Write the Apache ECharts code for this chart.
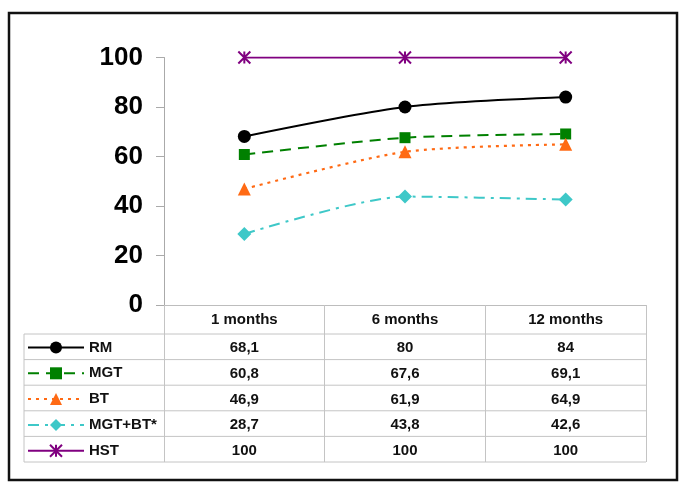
<!DOCTYPE html>
<html><head><meta charset="utf-8">
<script src="https://cdn.jsdelivr.net/npm/echarts@6/dist/echarts.min.js"></script>
<style>html,body{margin:0;padding:0;background:#fff}#c{width:685px;height:492px}</style>
</head><body><div id="c"></div>
<script>
const categories = ['1 months', '6 months', '12 months'];
const seriesNames = ['RM', 'MGT', 'BT', 'MGT+BT*', 'HST'];
const RM = [68.1, 80, 84];
const MGT = [60.8, 67.6, 69.1];
const BT = [46.9, 61.9, 64.9];
const MGT_BT = [28.7, 43.8, 42.6];
const HST = [100, 100, 100];
const yTicks = [0, 20, 40, 60, 80, 100];

const seriesData = [RM, MGT, BT, MGT_BT, HST];
const styles = [
  {color: '#000000', type: 'solid', symbol: 'circle', size: 13, width: 2},
  {color: '#008000', type: [11, 7], symbol: 'rect', size: 11, width: 2},
  {color: '#ff6a14', type: [3, 5], symbol: 'triangle', size: 13, width: 2.2},
  {color: '#3ec8c8', type: [11, 6, 3, 6], symbol: 'diamond', size: 14, width: 2},
  {color: '#800080', type: 'solid', symbol: 'path://M0,0L10,10M10,0L0,10M5,0L5,10', size: 12, width: 2}
];
const FONT = 'Liberation Sans, Arial, sans-serif';
const chart = echarts.init(document.getElementById('c'));
const gridTop = 57.5, gridBottomY = 305, gridLeft = 164, gridRight = 646;
const headerH = 29, rowH = 25.6;
const tableBottom = gridBottomY + headerH + rowH * seriesNames.length;

const option = {
  animation: false,
  grid: {left: gridLeft, right: 685 - gridRight, top: gridTop, bottom: 492 - gridBottomY},
  xAxis: {
    type: 'category', data: categories, boundaryGap: true,
    axisLine: {lineStyle: {color: '#bdbdbd', width: 1}},
    axisTick: {show: true, length: tableBottom - gridBottomY, alignWithLabel: false, lineStyle: {color: '#c4c4c4'}},
    axisLabel: {fontFamily: FONT, fontSize: 15, fontWeight: 'bold', color: '#111', margin: 7}
  },
  yAxis: {
    type: 'value', min: yTicks[0], max: yTicks[yTicks.length - 1], interval: 20,
    axisLine: {show: true, lineStyle: {color: '#aaaaaa'}},
    axisTick: {show: true, length: 8, lineStyle: {color: '#aaaaaa'}},
    splitLine: {show: false},
    axisLabel: {fontFamily: FONT, fontSize: 26, fontWeight: 'bold', color: '#000', margin: 21}
  },
  legend: {
    orient: 'vertical', left: 27, top: gridBottomY + headerH + 6, padding: 0,
    itemWidth: 56, itemHeight: 15, itemGap: 10.8,
    textStyle: {fontFamily: FONT, fontSize: 15, fontWeight: 'bold', color: '#111'},
    data: seriesNames
  },
  series: seriesNames.map((n, i) => ({
    name: n, type: 'line', data: seriesData[i], smooth: 0.25,
    symbol: styles[i].symbol, symbolSize: styles[i].size,
    lineStyle: {color: styles[i].color, type: styles[i].type, width: styles[i].width},
    itemStyle: i === 4 ? {color: styles[i].color, borderColor: styles[i].color, borderWidth: 2}
                       : {color: styles[i].color, borderWidth: 0}
  }))
};
chart.setOption(option);

// table built from the data arrays, positioned through the axes
const graphic = [];
graphic.push({type: 'rect', shape: {x: 9, y: 13, width: 668, height: 467},
  style: {fill: null, stroke: '#111', lineWidth: 2.5}, z: 100});
graphic.push({type: 'line', shape: {x1: 24, y1: gridBottomY + headerH, x2: 24, y2: tableBottom},
  style: {stroke: '#c4c4c4', lineWidth: 1}});
for (let r = 0; r <= seriesNames.length; r++) {
  const y = gridBottomY + headerH + r * rowH;
  graphic.push({type: 'line', shape: {x1: 24, y1: y, x2: gridRight, y2: y},
    style: {stroke: '#c4c4c4', lineWidth: 1}});
}
seriesNames.forEach((n, r) => {
  const yc = gridBottomY + headerH + (r + 0.5) * rowH + 1.5;
  seriesData[r].forEach((v, c) => {
    const xc = chart.convertToPixel({xAxisIndex: 0}, categories[c]);
    graphic.push({type: 'text', x: xc, y: yc,
      style: {text: String(v).replace('.', ','), fontFamily: FONT, fontSize: 15, fontWeight: 'bold',
        fill: '#111', align: 'center', verticalAlign: 'middle'}});
  });
});
chart.setOption({graphic: graphic});
</script></body></html>
